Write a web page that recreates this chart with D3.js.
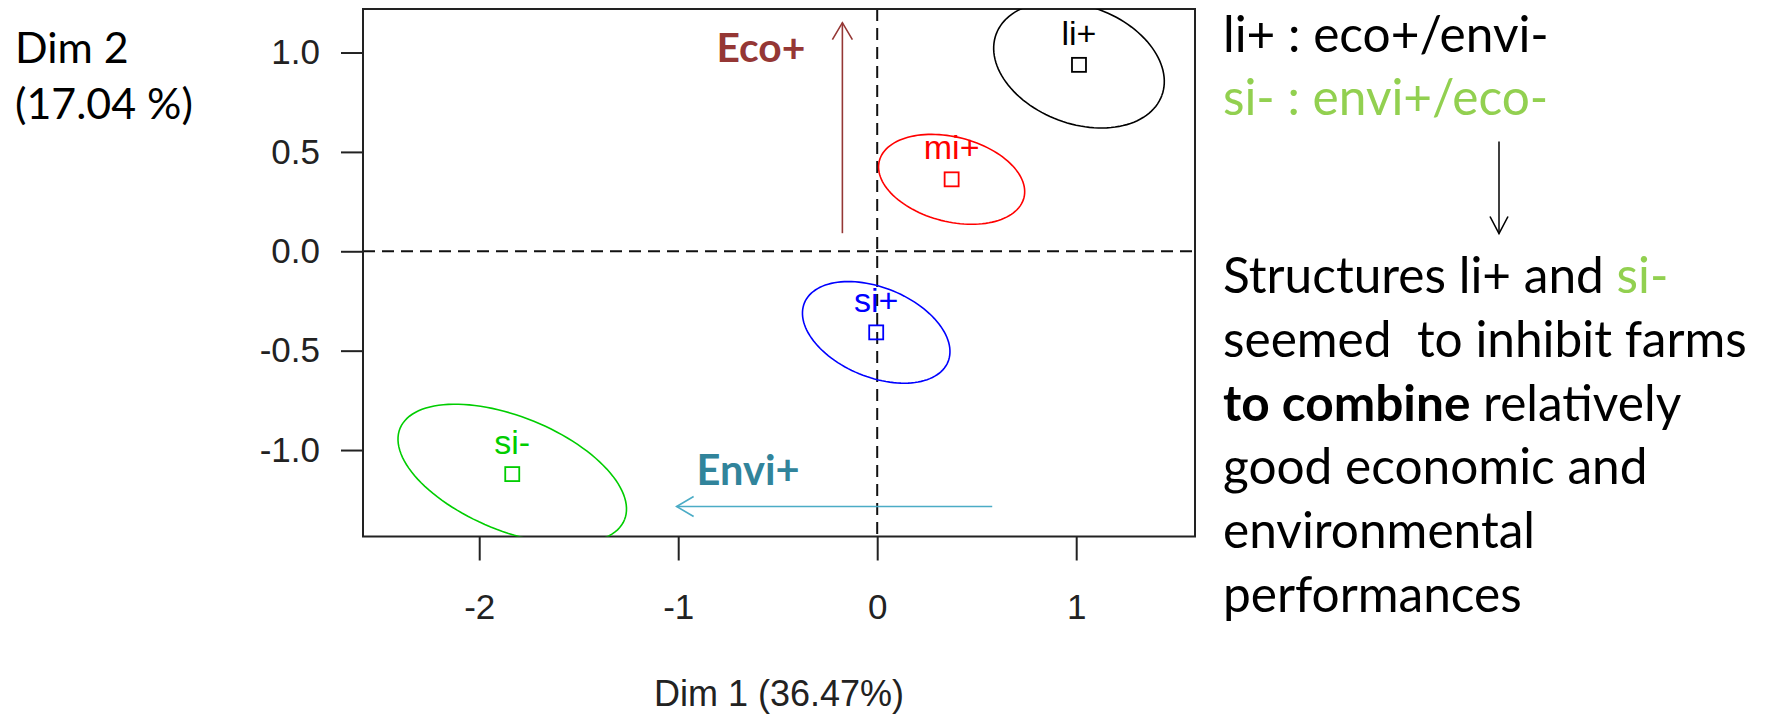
<!DOCTYPE html>
<html><head><meta charset="utf-8">
<script src="https://cdn.jsdelivr.net/npm/d3@7"></script>
<style>
html,body{margin:0;padding:0;background:#fff;}
svg{display:block;}
</style></head><body>
<svg id="chart" width="1766" height="714"></svg>
<script>
// ---------------- data ----------------
const groups       = ["li+", "mi+", "si+", "si-"];
const groupColors  = ["#000000", "#ff0000", "#0000ff", "#00cd00"];
const centerX      = [1.014, 0.374, -0.005, -1.834];
const centerY      = [0.938, 0.362, -0.408, -1.121];
const ellipseA     = [0.444, 0.375, 0.390, 0.609];   // semi-major axis (data units)
const ellipseB     = [0.296, 0.213, 0.225, 0.287];   // semi-minor axis (data units)
const ellipseAngle = [-20.4, -14.3, -22.4, -22.2];   // rotation, degrees

const xTicks  = [-2, -1, 0, 1];
const yTicks  = [-1.0, -0.5, 0.0, 0.5, 1.0];
const xDomain = [-2.584, 1.597];
const yDomain = [-1.435, 1.219];
const xTitle  = "Dim 1 (36.47%)";
const yTitle  = ["Dim 2", "(17.04 %)"];

const arrowLabels = ["Eco+", "Envi+"];
const arrowColors = ["#953735", "#4bacc6"];
const labelColors = ["#953735", "#31849b"];
const arrowX0 = [-0.175, 0.578];
const arrowY0 = [0.091, -1.284];
const arrowX1 = [-0.175, -1.008];
const arrowY1 = [1.150, -1.284];

const noteTop = [
  [{t: "li+ : eco+/envi-"}],
  [{t: "si- : envi+/eco-", c: "#92d050"}]
];
const noteBottom = [
  [{t: "Structures li+ and "}, {t: "si-", c: "#92d050"}],
  [{t: "seemed  to inhibit farms"}],
  [{t: "to combine", b: true}, {t: " relatively"}],
  [{t: "good economic and"}],
  [{t: "environmental"}],
  [{t: "performances"}]
];

// ---------------- layout ----------------
const svg = d3.select("#chart");
const L = 363, R = 1195, T = 9, B = 536.5;
const x = d3.scaleLinear().domain(xDomain).range([L, R]);
const y = d3.scaleLinear().domain(yDomain).range([B, T]);
const rFont = "'Liberation Sans', Arial, sans-serif";
const pFont = "Lato, 'Noto Sans', sans-serif";

svg.append("defs").append("clipPath").attr("id", "plotclip")
  .append("rect").attr("x", L).attr("y", T).attr("width", R - L).attr("height", B - T);

// reference lines
svg.append("line").attr("x1", L).attr("x2", R).attr("y1", y(0)).attr("y2", y(0))
  .attr("stroke", "#111").attr("stroke-width", 2).attr("stroke-dasharray", "12,7");
svg.append("line").attr("x1", x(0)).attr("x2", x(0)).attr("y1", T).attr("y2", B)
  .attr("stroke", "#111").attr("stroke-width", 2).attr("stroke-dasharray", "12,7");

// axes
const fmtY = d => d.toFixed(1);
const fmtX = d => String(d);
const yAxis = svg.append("g").attr("transform", `translate(${L},0)`)
  .call(d3.axisLeft(y).tickValues(yTicks).tickSize(22).tickPadding(21).tickFormat(fmtY));
const xAxis = svg.append("g").attr("transform", `translate(0,${B})`)
  .call(d3.axisBottom(x).tickValues(xTicks).tickSize(24).tickPadding(34).tickFormat(fmtX));
[yAxis, xAxis].forEach(g => {
  g.select(".domain").remove();
  g.selectAll(".tick line").attr("stroke", "#222").attr("stroke-width", 2);
  g.selectAll(".tick text").attr("fill", "#222").style("font-family", rFont).style("font-size", "35px");
});

// frame
svg.append("rect").attr("x", L).attr("y", T).attr("width", R - L).attr("height", B - T)
  .attr("fill", "none").attr("stroke", "#222").attr("stroke-width", 2);

// axis title
svg.append("text").attr("x", (L + R) / 2).attr("y", 706).attr("text-anchor", "middle")
  .style("font-family", rFont).style("font-size", "36px").attr("fill", "#222").text(xTitle);

// ellipses
const plot = svg.append("g").attr("clip-path", "url(#plotclip)");
const line = d3.line().x(d => x(d[0])).y(d => y(d[1]));
groups.forEach((g, i) => {
  const phi = ellipseAngle[i] * Math.PI / 180;
  const pts = d3.range(0, 121).map(k => {
    const t = k / 120 * 2 * Math.PI;
    const ux = ellipseA[i] * Math.cos(t), uy = ellipseB[i] * Math.sin(t);
    return [centerX[i] + ux * Math.cos(phi) - uy * Math.sin(phi),
            centerY[i] + ux * Math.sin(phi) + uy * Math.cos(phi)];
  });
  plot.append("path").attr("d", line(pts)).attr("fill", "none")
    .attr("stroke", groupColors[i]).attr("stroke-width", 1.6);
});

// points & labels
groups.forEach((g, i) => {
  svg.append("rect").attr("x", x(centerX[i]) - 7).attr("y", y(centerY[i]) - 7)
    .attr("width", 14).attr("height", 14).attr("fill", "none")
    .attr("stroke", groupColors[i]).attr("stroke-width", 1.8);
  svg.append("text").attr("x", x(centerX[i])).attr("y", y(centerY[i]) - 32)
    .attr("dy", "0.35em").attr("text-anchor", "middle")
    .style("font-family", rFont).style("font-size", "34px")
    .attr("fill", groupColors[i]).text(g);
});

// arrows
function arrowHead(g, x1, y1, x0, y0, color, len, half) {
  const ang = Math.atan2(y1 - y0, x1 - x0);
  const ca = Math.cos(ang), sa = Math.sin(ang);
  const bx = x1 - len * ca, by = y1 - len * sa;
  const p = d3.path();
  p.moveTo(bx - half * sa, by + half * ca);
  p.lineTo(x1, y1);
  p.lineTo(bx + half * sa, by - half * ca);
  g.append("path").attr("d", p.toString()).attr("fill", "none")
    .attr("stroke", color).attr("stroke-width", 1.6);
}
arrowLabels.forEach((lab, i) => {
  const X0 = x(arrowX0[i]), Y0 = y(arrowY0[i]), X1 = x(arrowX1[i]), Y1 = y(arrowY1[i]);
  svg.append("line").attr("x1", X0).attr("y1", Y0).attr("x2", X1).attr("y2", Y1)
    .attr("stroke", arrowColors[i]).attr("stroke-width", 1.6);
  arrowHead(svg, X1, Y1, X0, Y0, arrowColors[i], 17, 10);
});
// arrow labels
const ecoLab = svg.append("text").attr("x", x(arrowX1[0]) - 37).attr("y", 61.5)
  .attr("text-anchor", "end").style("font-family", pFont).style("font-weight", "bold")
  .style("font-size", "42px").attr("fill", labelColors[0]).text(arrowLabels[0]);
const enviLab = svg.append("text").attr("x", x(arrowX1[1]) + 20).attr("y", 485)
  .style("font-family", pFont).style("font-weight", "bold")
  .style("font-size", "42px").attr("fill", labelColors[1]).text(arrowLabels[1]);

function fit(sel, target) {
  const w = sel.node().getComputedTextLength();
  const fs = parseFloat(sel.style("font-size"));
  return fs * target / w;
}
ecoLab.style("font-size", fit(ecoLab, 89) + "px");
enviLab.style("font-size", fit(enviLab, 103) + "px");

// y title (slide text)
const yT = svg.append("g");
const yT1 = yT.append("text").attr("x", 15).attr("y", 62.5).style("font-family", pFont)
  .style("font-size", "42px").attr("fill", "#000").text(yTitle[0]);
const yT2 = yT.append("text").attr("x", 15).attr("y", 118.5).style("font-family", pFont)
  .style("font-size", "42px").attr("fill", "#000").text(yTitle[1]);
const yfs = fit(yT2, 178);
yT1.style("font-size", yfs + "px"); yT2.style("font-size", yfs + "px");

// right-hand notes
function writeLines(lines, x0, y0, step) {
  return lines.map((segs, i) => {
    const t = svg.append("text").attr("x", x0).attr("y", y0 + i * step)
      .style("font-family", pFont).style("font-size", "46px").style("white-space", "pre")
      .attr("xml:space", "preserve");
    segs.forEach(s => t.append("tspan").text(s.t).attr("fill", s.c || "#000")
      .style("font-weight", s.b ? "bold" : "normal"));
    return t;
  });
}
const topT = writeLines(noteTop, 1223, 51.7, 63.5);
const botT = writeLines(noteBottom, 1223, 293, 63.8);
const nfs = fit(botT[1], 524);
topT.concat(botT).forEach(t => t.style("font-size", nfs + "px"));

// down arrow between notes
svg.append("line").attr("x1", 1499).attr("x2", 1499).attr("y1", 141.5).attr("y2", 233.5)
  .attr("stroke", "#000").attr("stroke-width", 1.5);
arrowHead(svg, 1499, 233.5, 1499, 141.5, "#000", 17, 9);
</script>
</body></html>
